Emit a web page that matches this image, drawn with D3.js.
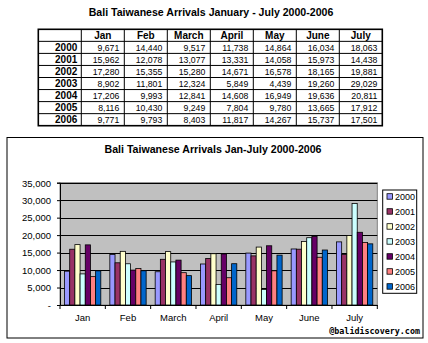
<!DOCTYPE html>
<html><head><meta charset="utf-8">
<script src="https://cdn.jsdelivr.net/npm/d3@7"></script>
<style>html,body{margin:0;padding:0;background:#fff;}svg{display:block;}</style>
</head><body>
<script>
// ---- data ----
const months = ["Jan","Feb","March","April","May","June","July"];
const years = ["2000","2001","2002","2003","2004","2005","2006"];
const v2000 = [9671,14440,9517,11738,14864,16034,18063];
const v2001 = [15962,12078,13077,13331,14058,15973,14438];
const v2002 = [17280,15355,15280,14671,16578,18165,19881];
const v2003 = [8902,11801,12324,5849,4439,19260,29029];
const v2004 = [17206,9993,12841,14608,16949,19636,20811];
const v2005 = [8116,10430,9249,7804,9780,13665,17912];
const v2006 = [9771,9793,8403,11817,14267,15737,17501];
const series = [v2000,v2001,v2002,v2003,v2004,v2005,v2006];
const yTicks = [0,5000,10000,15000,20000,25000,30000,35000];
const colors = ["#9999FF","#993366","#FFFFCC","#CCFFFF","#660066","#FF8080","#0066CC"];

const W = 428, H = 343;
const svg = d3.select("body").append("svg").attr("width", W).attr("height", H);
const fmt = d3.format(",");

function fitText(sel, width) {
  const n = sel.node();
  const fs = parseFloat(sel.attr("font-size"));
  const len = n.getComputedTextLength();
  sel.attr("font-size", (fs * width / len).toFixed(2));
}

// ---- table title ----
const t1 = svg.append("text").attr("x", 211).attr("y", 16).attr("text-anchor", "middle")
  .attr("font-family", "Liberation Sans, Arial, sans-serif").attr("font-weight", "bold")
  .attr("font-size", 11).text("Bali Taiwanese Arrivals January - July 2000-2006");
fitText(t1, 245);

// ---- table ----
const tX = d3.scaleBand().domain(["", ...months]).range([38.3, 382.3]);
const tY = d3.scaleBand().domain(["h", ...years]).range([29.3, 125.7]);
const tg = svg.append("g");
// grid lines
tX.domain().forEach((d, i) => {
  if (i === 0) return;
  tg.append("line").attr("x1", tX(d)).attr("x2", tX(d)).attr("y1", 29.3).attr("y2", 125.7)
    .attr("stroke", "#000").attr("stroke-width", 1);
});
tY.domain().forEach((d, i) => {
  if (i === 0) return;
  tg.append("line").attr("x1", 38.3).attr("x2", 382.3).attr("y1", tY(d)).attr("y2", tY(d))
    .attr("stroke", "#000").attr("stroke-width", 1);
});
tg.append("rect").attr("x", 38.3).attr("y", 29.3).attr("width", 344).attr("height", 96.4)
  .attr("fill", "none").attr("stroke", "#000").attr("stroke-width", 1.6);
// headers
months.forEach(m => {
  tg.append("text").attr("x", tX(m) + tX.bandwidth() / 2).attr("y", tY("h") + 9.8)
    .attr("text-anchor", "middle").attr("font-family", "Liberation Sans, Arial, sans-serif")
    .attr("font-weight", "bold").attr("font-size", 10).text(m);
});
years.forEach((yr, i) => {
  tg.append("text").attr("x", tX("") + tX.bandwidth() - 4).attr("y", tY(yr) + 9.2)
    .attr("text-anchor", "end").attr("font-family", "Liberation Sans, Arial, sans-serif")
    .attr("font-weight", "bold").attr("font-size", 10).text(yr);
  series[i].forEach((v, j) => {
    tg.append("text").attr("x", tX(months[j]) + tX.bandwidth() - 5).attr("y", tY(yr) + 9.2)
      .attr("text-anchor", "end").attr("font-family", "Liberation Sans, Arial, sans-serif")
      .attr("font-size", 8.7).text(fmt(v));
  });
});

// ---- chart frame ----
svg.append("rect").attr("x", 7).attr("y", 137.5).attr("width", 416).attr("height", 200.5)
  .attr("fill", "#fff").attr("stroke", "#000").attr("stroke-width", 1);
const t2 = svg.append("text").attr("x", 213).attr("y", 152.5).attr("text-anchor", "middle")
  .attr("font-family", "Liberation Sans, Arial, sans-serif").attr("font-weight", "bold")
  .attr("font-size", 10).text("Bali Taiwanese Arrivals Jan-July 2000-2006");
fitText(t2, 217);

const pL = 60, pR = 377.3, pT = 182.7, pB = 305;
const x0 = d3.scaleBand().domain(months).range([pL, pR]);
const x1 = d3.scaleBand().domain(years).range([0, x0.bandwidth()]).paddingInner(0).paddingOuter(0.87);
const y = d3.scaleLinear().domain([0, 35000]).range([pB, pT]);

svg.append("rect").attr("x", pL).attr("y", pT).attr("width", pR - pL).attr("height", pB - pT)
  .attr("fill", "#C0C0C0").attr("stroke", "#808080").attr("stroke-width", 1);

// gridlines
svg.append("g").selectAll("line").data(yTicks.filter(d => d > 0)).join("line")
  .attr("x1", pL).attr("x2", pR).attr("y1", d => Math.round(y(d)) + 0.5).attr("y2", d => Math.round(y(d)) + 0.5)
  .attr("stroke", "#000").attr("stroke-width", 1);

// y axis
const yAxis = svg.append("g").attr("transform", `translate(${pL},0)`)
  .call(d3.axisLeft(y).tickValues(yTicks).tickSize(3).tickFormat(d => d === 0 ? "-" : fmt(d)));
yAxis.select(".domain").attr("stroke", "#000");
yAxis.selectAll("text").attr("font-family", "Liberation Sans, Arial, sans-serif").attr("font-size", 9.5)
  .attr("fill", "#000").attr("x", -9).attr("dy", "0.35em");

// bars
const groups = svg.append("g").selectAll("g").data(months).join("g")
  .attr("transform", d => `translate(${x0(d)},0)`);
groups.selectAll("rect").data((m, j) => years.map((yr, i) => ({ yr, i, v: series[i][j] }))).join("rect")
  .attr("x", d => x1(d.yr)).attr("width", x1.bandwidth())
  .attr("y", d => y(d.v)).attr("height", d => pB - y(d.v))
  .attr("fill", d => colors[d.i]).attr("stroke", "#000").attr("stroke-width", 0.8);

// x axis
const xAxis = svg.append("g").attr("transform", `translate(0,${pB})`)
  .call(d3.axisBottom(x0).tickSize(0).tickPadding(9));
xAxis.select(".domain").attr("stroke", "#000");
xAxis.selectAll("text").attr("font-family", "Liberation Sans, Arial, sans-serif").attr("font-size", 9.5).attr("fill", "#000");
const bounds = months.map(m => x0(m)).concat([pR]);
xAxis.selectAll("line.sep").data(bounds).join("line").attr("class", "sep")
  .attr("x1", d => d).attr("x2", d => d).attr("y1", 0).attr("y2", 4).attr("stroke", "#000");

// legend
const lg = svg.append("g");
lg.append("rect").attr("x", 382.7).attr("y", 190).attr("width", 34).attr("height", 103.3)
  .attr("fill", "#fff").attr("stroke", "#000").attr("stroke-width", 1);
years.forEach((yr, i) => {
  const cy = 196.7 + i * 15;
  lg.append("rect").attr("x", 387).attr("y", cy - 3).attr("width", 5.5).attr("height", 5.5)
    .attr("fill", colors[i]).attr("stroke", "#000").attr("stroke-width", 0.8);
  lg.append("text").attr("x", 395).attr("y", cy + 3.3).attr("font-family", "Liberation Sans, Arial, sans-serif")
    .attr("font-size", 9).text(yr);
});

// watermark
svg.append("text").attr("x", 420).attr("y", 334).attr("text-anchor", "end")
  .attr("font-family", "DejaVu Sans Mono, monospace").attr("font-weight", "bold")
  .attr("font-size", 8.4).text("@balidiscovery.com");
</script>
</body></html>
